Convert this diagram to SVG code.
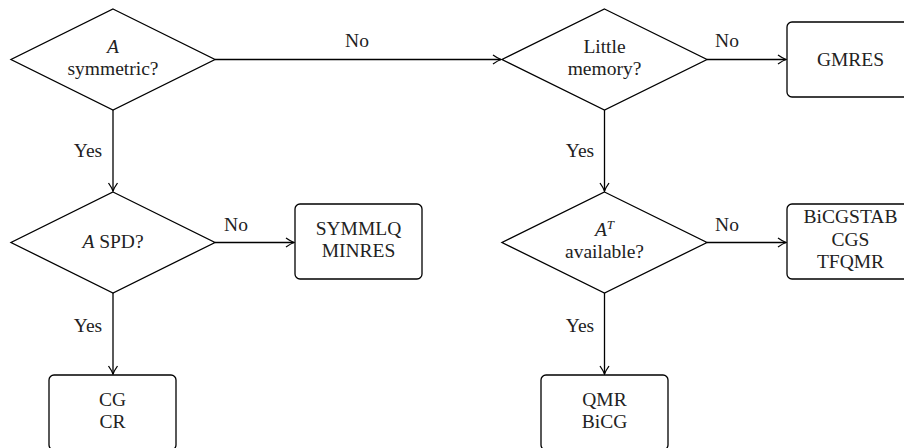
<svg xmlns="http://www.w3.org/2000/svg" width="904" height="448" viewBox="0 0 904 448" font-family="'Liberation Serif', 'Times New Roman', serif">
<defs>
<style>
.shape{fill:#fff;stroke:#000;stroke-width:1.3}
text{font-family:'Liberation Serif','Times New Roman',serif;font-size:19.5px;fill:#222;text-anchor:middle}
.conn line{stroke:#000;stroke-width:1.3;marker-end:url(#arr)}
</style>
<marker id="arr" viewBox="-10 -6 12 12" refX="0" refY="0" markerWidth="12" markerHeight="12" orient="auto" markerUnits="userSpaceOnUse">
<path d="M-8,-4.5 Q-3,-1 0,0 Q-3,1 -8,4.5" fill="none" stroke="#000" stroke-width="1.3"/>
</marker>
</defs>
<rect width="904" height="448" fill="#fff"/>
<g id="connectors" class="conn">
<line x1="215" y1="59.5" x2="501" y2="59.5"/>
<line x1="707" y1="59.5" x2="786" y2="59.5"/>
<line x1="113" y1="110" x2="113" y2="191"/>
<line x1="215" y1="242.5" x2="294" y2="242.5"/>
<line x1="113" y1="293" x2="113" y2="374"/>
<line x1="604.5" y1="110" x2="604.5" y2="191"/>
<line x1="707" y1="242.5" x2="786" y2="242.5"/>
<line x1="604.5" y1="293" x2="604.5" y2="374"/>
</g>
<g id="edge-labels">
<text x="357" y="47">No</text>
<text x="727" y="47">No</text>
<text x="88" y="157">Yes</text>
<text x="236" y="231">No</text>
<text x="88" y="332">Yes</text>
<text x="580" y="157">Yes</text>
<text x="727" y="231">No</text>
<text x="580" y="332">Yes</text>
</g>
<g id="d-sym">
<polygon class="shape" points="113,9 215,59.5 113,110 11,59.5"/>
<text x="113" y="53" font-style="italic">A</text>
<text x="113" y="75">symmetric?</text>
</g>
<g id="d-mem">
<polygon class="shape" points="604.5,9 707,59.5 604.5,110 502,59.5"/>
<text x="604.5" y="53">Little</text>
<text x="604.5" y="75">memory?</text>
</g>
<g id="b-gmres">
<rect class="shape" x="787" y="22" width="127" height="75" rx="5"/>
<text x="850.5" y="66">GMRES</text>
</g>
<g id="d-spd">
<polygon class="shape" points="113,192 215,242.5 113,293 11,242.5"/>
<text x="113" y="248"><tspan font-style="italic">A</tspan> SPD?</text>
</g>
<g id="b-symmlq">
<rect class="shape" x="295" y="204" width="127" height="75" rx="5"/>
<text x="358.5" y="235">SYMMLQ</text>
<text x="358.5" y="257">MINRES</text>
</g>
<g id="d-at">
<polygon class="shape" points="604.5,192 707,242.5 604.5,293 502,242.5"/>
<text x="604.5" y="236"><tspan font-style="italic">A</tspan><tspan font-style="italic" font-size="13" dy="-7">T</tspan></text>
<text x="604.5" y="258">available?</text>
</g>
<g id="b-bicgstab">
<rect class="shape" x="787" y="204" width="127" height="75" rx="5"/>
<text x="850.5" y="223">BiCGSTAB</text>
<text x="850.5" y="246">CGS</text>
<text x="850.5" y="268">TFQMR</text>
</g>
<g id="b-cg">
<rect class="shape" x="49" y="375" width="127" height="75" rx="5"/>
<text x="112.5" y="406">CG</text>
<text x="112.5" y="428">CR</text>
</g>
<g id="b-qmr">
<rect class="shape" x="541" y="375" width="127" height="75" rx="5"/>
<text x="604.5" y="406">QMR</text>
<text x="604.5" y="428">BiCG</text>
</g>
</svg>
